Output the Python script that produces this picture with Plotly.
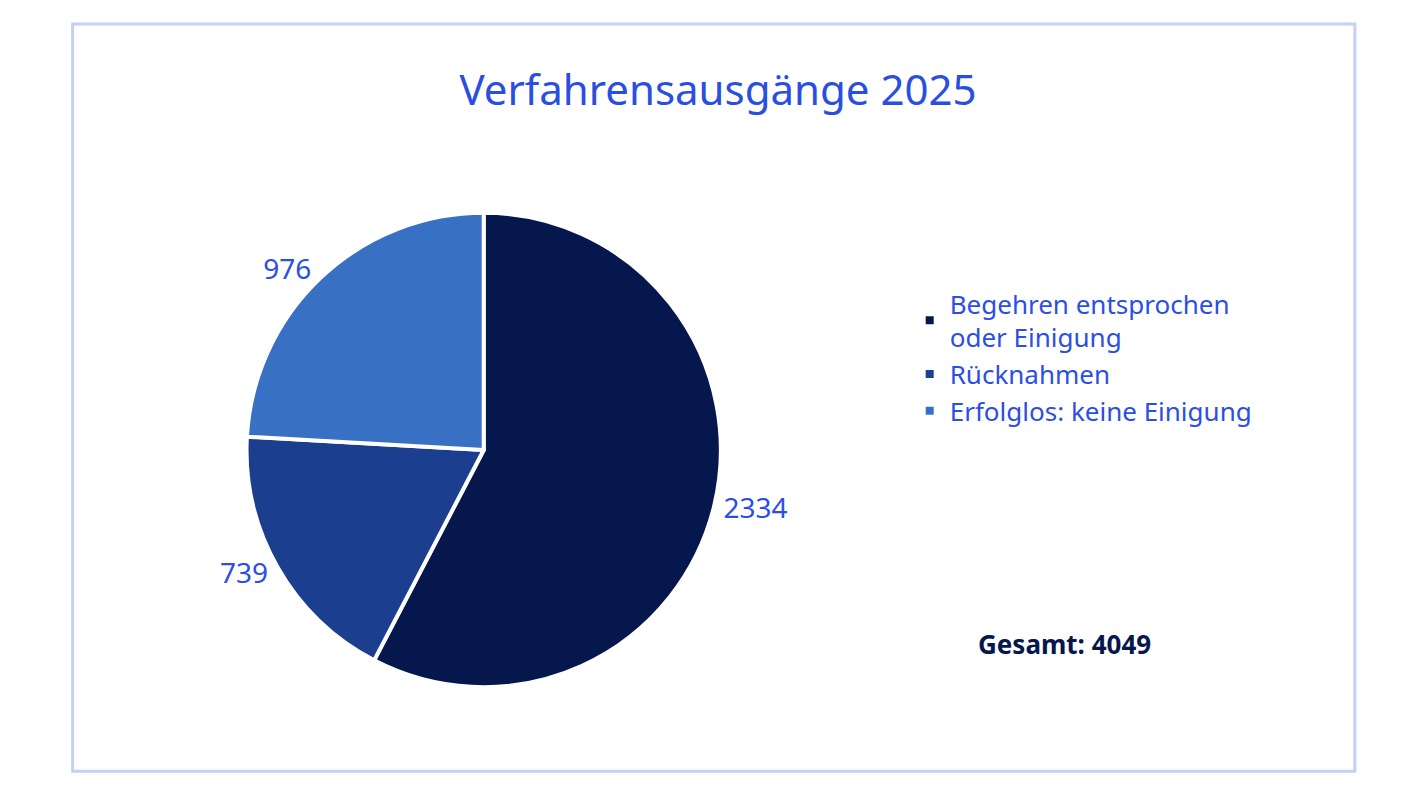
import plotly.graph_objects as go

labels = ["Begehren entsprochen<br>oder Einigung", "Rücknahmen", "Erfolglos: keine Einigung"]
values = [2334, 739, 976]
colors = ["#06174d", "#1b3f8e", "#3870c4"]
total = sum(values)

fig = go.Figure(go.Pie(
    labels=labels, values=values, sort=False, direction="clockwise", rotation=0,
    marker=dict(colors=colors, line=dict(color="white", width=4)),
    textinfo="value", textposition="outside",
    textfont=dict(size=28, color="#2b4ee6"),
    domain=dict(x=[0.168, 0.502], y=[0.151, 0.744]),
    hoverinfo="label+value",
))
fig.update_layout(
    width=1420, height=800, margin=dict(l=0, r=0, t=0, b=0),
    paper_bgcolor="white", font=dict(family="Noto Sans"),
    title=dict(text="Verfahrensausgänge 2025", x=0.5, y=0.915, xanchor="center",
               font=dict(size=42, color="#2a4fe0")),
    legend=dict(x=0.635, y=0.66, xanchor="left", yanchor="top",
                font=dict(size=26, color="#2b4ee6"), itemwidth=30),
    shapes=[dict(type="rect", xref="paper", yref="paper", x0=0.0455, x1=0.9485, y0=0.046, y1=0.98,
                 line=dict(color="#c5d0f5", width=3))],
    annotations=[dict(text=f"<b>Gesamt: {total}</b>", x=0.806, y=0.18, xref="paper", yref="paper",
                      showarrow=False, font=dict(size=26, color="#06174d"))],
)
fig.write_html("out.html")
